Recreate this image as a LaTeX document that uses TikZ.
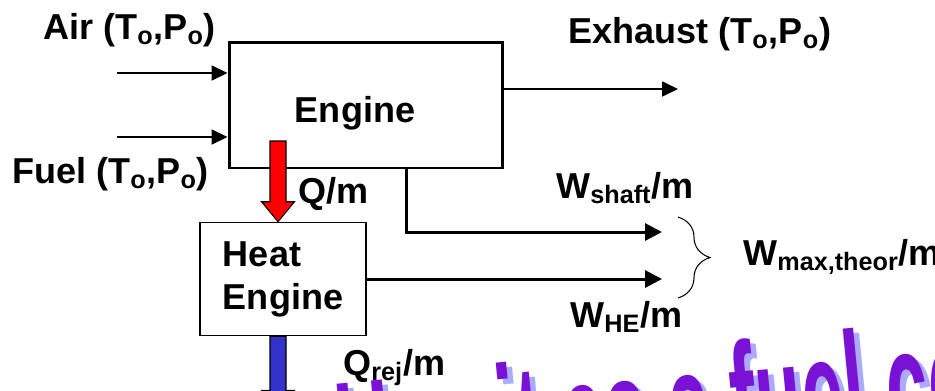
\documentclass[tikz,border=0pt]{standalone}
\usepackage{fontspec}
\setmainfont{Liberation Sans}
\usetikzlibrary{arrows.meta,calc,decorations.pathreplacing}

\definecolor{heatred}{RGB}{255,0,0}
\definecolor{rejblue}{RGB}{51,51,204}
\definecolor{artpurple}{RGB}{122,18,214}
\definecolor{artshadow}{RGB}{170,170,255}

\newcommand{\lo}[1]{\textsubscript{#1}}
\newcommand{\fatarrow}[3]{%
  \filldraw[fill=#3, draw=black, line width=0.6pt]
    ($(#1)+(-8,0)$) -- ($(#2)+(-8,-20)$) -- ($(#2)+(-16.5,-20)$) -- (#2)
    -- ($(#2)+(16.5,-20)$) -- ($(#2)+(8,-20)$) -- ($(#1)+(8,0)$) -- cycle;}

\tikzset{
  lbl/.style={font=\fontsize{20.5}{24.4}\selectfont\bfseries, inner sep=0pt},
  unit/.style={draw, line width=1.7pt, inner sep=0pt},
  flow/.style={line width=0.75pt, -{Triangle[length=9pt,width=8.5pt]}},
  work/.style={line width=1.7pt, -{Triangle[length=9.6pt,width=9.6pt]}},
  art/.style={font=\fontsize{43}{43}\selectfont\bfseries, inner sep=0pt}
}

\begin{document}
\begin{tikzpicture}[x=0.02cm,y=-0.02cm]
\useasboundingbox (0,0) rectangle (935,390);
\clip (0,0) rectangle (935,390);

% blocks
\node[unit, minimum width=5.48cm, minimum height=2.52cm] (eng) at (366,105) {};
\node[lbl, anchor=base] (engtxt) at (355,122) {Engine};
\node[unit, line width=0.9pt, minimum width=3.32cm, minimum height=2.26cm,
      align=left, lbl] (heng) at (283,279) {Heat\\Engine};

% streams in and out
\coordinate (airin) at (117,73);
\coordinate (fuelin) at (117,137);
\coordinate (exhout) at (678,89);
\draw[flow] (airin) -- (airin -| eng.west);
\draw[flow] (fuelin) -- (fuelin -| eng.west);
\draw[flow] (exhout -| eng.east) -- (exhout);

\node[lbl, anchor=base west] (air) at (43,39) {Air (T\lo{o},P\lo{o})};
\node[lbl, anchor=base west] (fuel) at (12,183) {Fuel (T\lo{o},P\lo{o})};
\node[lbl, anchor=base west] (exh) at (568,43) {Exhaust (T\lo{o},P\lo{o})};

% work
\coordinate (wshaftend) at (662,232);
\coordinate (wheend) at (662,279);
\draw[work] ($(eng.south west)!0.646!(eng.south east)$) |- (wshaftend);
\draw[work] (heng.east) -- (wheend);
\node[lbl, anchor=base west] (wshaft) at (556,198) {W\lo{shaft}/m};
\node[lbl, anchor=base west] (whe) at (570,327) {W\lo{HE}/m};

\coordinate (brtop) at (678,217);
\coordinate (brbot) at (678,298);
\draw[line width=0.6pt, decorate, decoration={brace, amplitude=0.64cm}] (brtop) -- (brbot);
\node[lbl, anchor=base west] (wmax) at (743,265) {W\lo{max,theor}/m};

% heat
\coordinate (qtop) at (278,141);
\coordinate (qtip) at (qtop |- heng.north);
\fatarrow{qtop}{qtip}{heatred}
\node[lbl, anchor=base west] (qin) at (298,203) {Q/m};

\coordinate (rtop) at (qtop |- heng.south);
\coordinate (rtip) at ($(rtop)+(0,74)$);
\fatarrow{rtop}{rtip}{rejblue}
\node[lbl, anchor=base west] (qrej) at (343,375) {Q\lo{rej}/m};

% word art
\node[art, text=artshadow, anchor=base west, rotate=5.5] (moralsh) at (209,517)
  {\scalebox{1}[2.2]{Or: Use it as a fuel cell}};
\node[art, text=artpurple, anchor=base west, rotate=5.5] (moral) at (203,512)
  {\scalebox{1}[2.2]{Or: Use it as a fuel cell}};
\end{tikzpicture}
\end{document}
